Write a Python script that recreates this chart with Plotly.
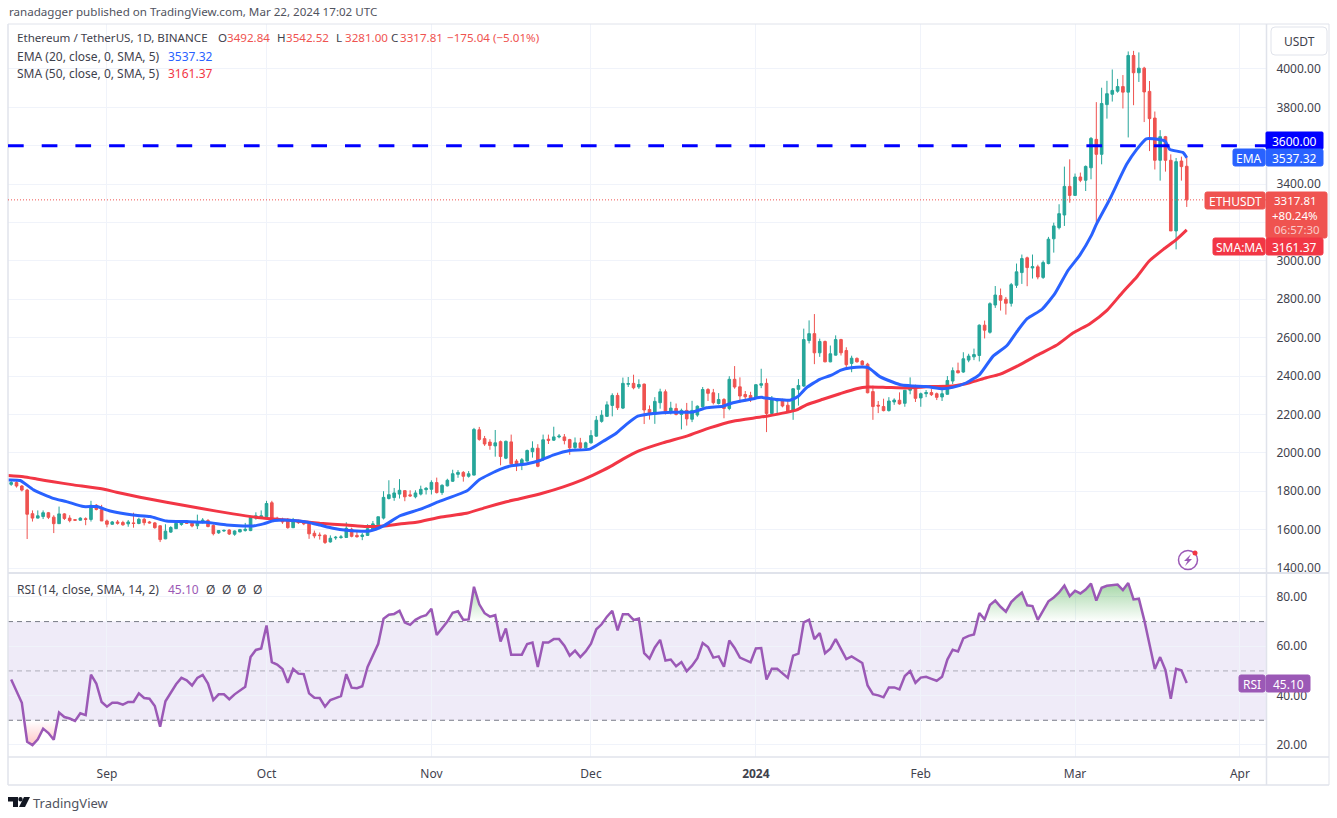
import numpy as np
import pandas as pd
import plotly.graph_objects as go

W, H = 1337, 818
# the drawn page comes out about 3px short of the window, so vertical positions are worked out against this
DRAWN_H = 815

first_day = "2023-08-14"

open_ = [
    1836, 1845, 1827, 1806, 1683, 1660, 1668, 1688, 1665, 1631, 1682, 1660, 1652, 1649, 1657, 1653, 1727, 1705,
    1645, 1628, 1640, 1637, 1630, 1635, 1632, 1654, 1640, 1635, 1620, 1552, 1587, 1605, 1627, 1638, 1633, 1620, 1637, 1647, 1622, 1583, 1593, 1598, 1576, 1588, 1595, 1595, 1660, 1665,
    1668, 1740, 1659, 1653, 1653, 1610, 1647, 1640, 1633, 1581, 1572, 1571, 1536, 1557, 1559, 1559, 1602, 1570, 1564, 1570, 1600, 1625, 1660, 1762, 1767, 1785, 1803, 1781, 1771, 1785, 1808,
    1810, 1845, 1793, 1828, 1852, 1888, 1898, 1878, 1884, 2120, 2074, 2056, 2036, 2058, 1972, 2057, 1957, 1940, 1957, 2006, 2024, 1965, 2071, 2066, 2083, 2083, 2069, 2028, 2052, 2026,
    2052, 2087, 2164, 2190, 2247, 2299, 2233, 2357, 2362, 2343, 2358, 2226, 2200, 2261, 2318, 2214, 2231, 2200, 2221, 2175, 2197, 2240, 2330, 2313, 2257, 2278, 2231, 2383, 2344, 2304, 2299,
    2283, 2352, 2362, 2205, 2270, 2270, 2248, 2218, 2331, 2348, 2585, 2621, 2521, 2580, 2474, 2509, 2590, 2533, 2466, 2492, 2478, 2462, 2319, 2248, 2241, 2220, 2265, 2274, 2258, 2326, 2350,
    2286, 2308, 2314, 2308, 2291, 2305, 2374, 2428, 2421, 2483, 2500, 2507, 2665, 2628, 2770, 2819, 2800, 2779, 2873, 2939, 3016, 2963, 2969, 2914, 2986, 3115, 3173, 3239, 3388,
    3341, 3437, 3420, 3485, 3633, 3555, 3814, 3868, 3884, 3908, 3879, 4070, 3980, 4004, 3883, 3744, 3524, 3647, 3524, 3156, 3520, 3492.84,
]
high = [
    1860, 1852, 1832, 1812, 1700, 1700, 1700, 1692, 1675, 1720, 1686, 1675, 1654, 1664, 1664, 1750, 1733, 1729,
    1652, 1645, 1650, 1646, 1650, 1688, 1662, 1662, 1645, 1640, 1622, 1628, 1618, 1635, 1650, 1650, 1636, 1678, 1660, 1655, 1628, 1598, 1600, 1602, 1596, 1604, 1635, 1672, 1690, 1700,
    1750, 1750, 1667, 1662, 1660, 1661, 1652, 1648, 1636, 1595, 1585, 1575, 1570, 1567, 1572, 1638, 1610, 1588, 1583, 1628, 1645, 1667, 1800, 1857, 1817, 1863, 1805, 1805, 1805, 1829, 1822,
    1857, 1871, 1836, 1865, 1912, 1910, 1905, 1905, 2130, 2135, 2088, 2071, 2119, 2064, 2064, 2095, 1967, 1973, 2017, 2060, 2045, 2095, 2095, 2136, 2098, 2098, 2073, 2080, 2078, 2058,
    2118, 2192, 2222, 2268, 2310, 2313, 2392, 2395, 2407, 2383, 2361, 2247, 2290, 2334, 2330, 2266, 2257, 2230, 2260, 2271, 2247, 2343, 2337, 2333, 2311, 2285, 2399, 2452, 2393, 2322, 2318,
    2357, 2438, 2387, 2296, 2281, 2282, 2280, 2336, 2384, 2647, 2690, 2723, 2595, 2585, 2559, 2612, 2594, 2550, 2506, 2497, 2483, 2469, 2350, 2270, 2282, 2290, 2284, 2315, 2327, 2393, 2355,
    2314, 2327, 2332, 2314, 2332, 2400, 2445, 2470, 2524, 2516, 2543, 2669, 2689, 2784, 2869, 2856, 2812, 2885, 2986, 3033, 3022, 3033, 2980, 3002, 3125, 3199, 3295, 3491, 3529,
    3455, 3460, 3497, 3645, 3827, 3902, 3938, 3997, 3948, 3968, 4091, 4094, 4086, 4011, 3937, 3778, 3681, 3651, 3555, 3536, 3543, 3542.52,
]
low = [
    1828, 1819, 1799, 1551, 1642, 1658, 1655, 1655, 1582, 1630, 1650, 1638, 1647, 1648, 1623, 1642, 1700, 1645,
    1612, 1625, 1626, 1620, 1615, 1610, 1628, 1622, 1632, 1605, 1535, 1550, 1583, 1603, 1620, 1630, 1612, 1603, 1632, 1612, 1570, 1578, 1588, 1572, 1568, 1586, 1590, 1592, 1652, 1660,
    1660, 1641, 1645, 1630, 1605, 1608, 1630, 1623, 1552, 1555, 1548, 1525, 1532, 1547, 1552, 1557, 1560, 1558, 1545, 1567, 1595, 1620, 1653, 1757, 1750, 1762, 1748, 1770, 1763, 1778, 1783,
    1783, 1788, 1781, 1825, 1848, 1870, 1850, 1871, 1882, 2063, 2036, 2016, 1980, 1935, 1967, 1935, 1905, 1910, 1955, 1975, 1925, 1958, 2046, 2062, 2076, 2044, 1990, 2020, 2018, 2022,
    2048, 2084, 2157, 2189, 2190, 2223, 2228, 2343, 2331, 2333, 2150, 2173, 2151, 2230, 2200, 2200, 2195, 2122, 2142, 2160, 2188, 2235, 2270, 2252, 2252, 2180, 2222, 2334, 2260, 2268, 2265,
    2281, 2337, 2108, 2200, 2205, 2237, 2213, 2172, 2246, 2343, 2570, 2462, 2500, 2472, 2472, 2507, 2507, 2435, 2420, 2470, 2455, 2310, 2172, 2207, 2216, 2215, 2250, 2251, 2240, 2305, 2265,
    2240, 2290, 2296, 2275, 2270, 2303, 2358, 2414, 2417, 2472, 2483, 2476, 2596, 2621, 2755, 2741, 2720, 2762, 2859, 2880, 2868, 2908, 2904, 2906, 2982, 3043, 3164, 3182, 3303,
    3340, 3410, 3364, 3425, 3202, 3503, 3741, 3830, 3876, 3794, 3643, 3811, 3932, 3723, 3572, 3476, 3418, 3465, 3156, 3060, 3418, 3281.00,
]
close = [
    1845, 1827, 1806, 1680, 1660, 1672, 1688, 1664, 1631, 1682, 1658, 1647, 1649, 1660, 1653, 1727, 1705, 1645,
    1628, 1640, 1633, 1625, 1640, 1632, 1654, 1636, 1635, 1610, 1548, 1592, 1611, 1633, 1638, 1633, 1619, 1640, 1650, 1616, 1579, 1595, 1596, 1577, 1593, 1600, 1602, 1664, 1672, 1672,
    1736, 1647, 1653, 1640, 1610, 1647, 1636, 1630, 1578, 1567, 1569, 1533, 1555, 1560, 1562, 1607, 1565, 1563, 1572, 1605, 1630, 1667, 1768, 1782, 1791, 1805, 1771, 1776, 1791, 1810, 1815,
    1846, 1793, 1831, 1857, 1891, 1898, 1878, 1891, 2122, 2070, 2046, 2038, 2052, 1981, 2060, 1943, 1940, 1964, 2012, 2024, 1930, 2068, 2065, 2083, 2087, 2064, 2026, 2052, 2026, 2052,
    2090, 2170, 2196, 2250, 2299, 2235, 2362, 2361, 2339, 2356, 2223, 2200, 2268, 2318, 2205, 2233, 2200, 2221, 2177, 2221, 2243, 2330, 2310, 2261, 2278, 2231, 2383, 2343, 2296, 2292, 2283,
    2355, 2360, 2205, 2282, 2278, 2244, 2218, 2334, 2351, 2590, 2621, 2521, 2580, 2474, 2516, 2590, 2521, 2459, 2493, 2474, 2459, 2313, 2241, 2244, 2220, 2270, 2275, 2255, 2326, 2348, 2284,
    2308, 2314, 2303, 2289, 2308, 2377, 2428, 2417, 2490, 2504, 2512, 2665, 2639, 2777, 2822, 2795, 2779, 2876, 2943, 3012, 2965, 2970, 2916, 2991, 3113, 3182, 3246, 3388, 3341,
    3437, 3420, 3492, 3638, 3555, 3820, 3871, 3888, 3908, 3879, 4070, 3980, 4004, 3880, 3741, 3524, 3647, 3524, 3156, 3517, 3491, 3317.81,
]

ema_days = [
    -0.6, 1.7, 4.2, 7.9, 10.4, 13.6, 16.1, 18.6, 22.9, 26.1, 29.2, 33, 36.7, 40.5, 43.6, 45.5, 47.4, 49.5, 53, 55.5, 58, 60.5, 63, 67.4, 70, 73, 76.8, 80.6, 85.7, 88,
    91.9, 93.8, 97, 99.4, 102, 105, 108.8, 111.3, 113.8, 115.6, 117.8, 120.7, 124.4, 128, 130.7, 133.8, 135.7, 139.5, 141, 143.9, 146.4, 147.9, 149.5, 152, 154.2, 156, 157.9, 160.1, 161.2, 163.3,
    165.7, 167.4, 169.5, 172, 175.1, 177, 179.6, 182.1, 184.6, 187.2, 189, 191, 193.8, 196.2, 198.7, 200.9, 203.1, 204, 206.5, 209.7, 211.6, 213.4, 214.7, 216.9, 217.8, 220.3, 221,
]
ema_values = [
    1859, 1856, 1807, 1763, 1746, 1720, 1720, 1697, 1676, 1668, 1645, 1642, 1638, 1624, 1619, 1619, 1630, 1647, 1648, 1640, 1624, 1607, 1597, 1593, 1619, 1671, 1705, 1748, 1802, 1860,
    1914, 1931, 1943, 1960, 1989, 2012, 2019, 2060, 2103, 2147, 2191, 2205, 2212, 2212, 2235, 2243, 2261, 2282, 2289, 2278, 2274, 2293, 2339, 2383, 2405, 2431, 2443, 2447, 2443, 2397,
    2369, 2353, 2348, 2345, 2334, 2341, 2365, 2409, 2504, 2559, 2629, 2699, 2748, 2829, 2951, 3030, 3134, 3190, 3320, 3503, 3581, 3636, 3636, 3624, 3581, 3564, 3537.32,
]
sma_days = [
    -0.6, 2.3, 4.8, 7.9, 11.7, 16.7, 19.8, 24.2, 29.2, 35.5, 41.7, 46.8, 53, 58, 63, 66.8, 70, 73, 76.2, 80.6, 85.6, 89.3, 93.1, 95.6, 100, 103.8, 107.5, 109.4, 112.6, 115, 118,
    122.5, 127, 131.3, 135.7, 142, 147.7, 149.5, 152.6, 155.8, 158.9, 161.1, 164.5, 168.3, 172.7, 177, 180.2, 183.3, 185.8, 189.5, 193, 196.5, 199.6, 202.8, 206, 209, 211.6, 213.9, 216.6, 219.1, 221,
]
sma_values = [
    1882, 1876, 1864, 1849, 1833, 1814, 1795, 1769, 1743, 1711, 1682, 1662, 1647, 1633, 1624, 1616, 1619, 1629, 1638, 1664, 1685, 1716, 1745, 1761, 1791, 1823, 1861, 1884, 1928, 1967, 2010,
    2052, 2087, 2130, 2165, 2191, 2224, 2250, 2279, 2308, 2334, 2343, 2341, 2338, 2345, 2348, 2365, 2391, 2409, 2457, 2510, 2560, 2624, 2673, 2742, 2838, 2916, 2998, 3060, 3112, 3161.37,
]
rsi_values = [
    46.5, 41.8, 37.1, 21.3, 19.9, 22.3, 26.6, 24.8, 22.1, 33.1, 31.3, 30.7, 29.7, 32.8, 32.1, 48.5, 44.9, 37.4,
    35.5, 37.1, 37.1, 36.3, 37.4, 37.4, 40.9, 39, 38.7, 35.8, 27.4, 37.7, 40.9, 44.6, 47.2, 46.2, 44.1, 47.2, 48.4, 44.9, 38.2, 40.5, 40.5, 38.5, 40.5, 42.1, 43.6, 55.6, 58.5, 59.1,
    68.4, 53.6, 52.6, 50.8, 45.2, 50.8, 48.9, 48.7, 40.9, 39.1, 39, 35.5, 38.2, 39, 39.8, 48.7, 43.2, 43, 43.8, 51.6, 56.2, 61, 71.2, 72.8, 73.1, 74.4, 69.6, 68.7, 70.7, 71.9, 72.6,
    75.2, 64.6, 67.3, 70, 73.6, 74.2, 70.7, 70.9, 84.1, 77, 73.4, 72, 72.6, 61.9, 67.2, 56.6, 56.6, 56.6, 60.9, 61.5, 51.6, 61.5, 61.5, 62.9, 62.9, 60.2, 56.2, 58.2, 55.6, 57.9,
    61, 66.9, 68.9, 72, 74.4, 66.4, 73, 73, 70.7, 71.2, 57.2, 55, 59.5, 62.6, 54.2, 54.6, 51.9, 53.6, 49.9, 52.1, 55.2, 61.3, 59.7, 55.4, 55.9, 51.7, 62.3, 59.3, 55.4, 54.6, 53.5,
    59.1, 59.3, 46.5, 50.9, 50.9, 48.9, 47.2, 56.2, 57, 69.7, 70.7, 62.9, 65.3, 57.2, 59, 62.9, 58.6, 54.8, 55.9, 54.6, 53.2, 44.1, 40.6, 40.1, 39.3, 43.3, 43.3, 42.5, 47.9, 49.9, 45.2,
    47.3, 47.6, 46.8, 46, 47.6, 54.6, 58.6, 57.9, 63.2, 64.2, 64.8, 73.5, 70.9, 76.7, 78.5, 76, 74, 77.9, 80, 81.8, 76.6, 76.3, 70.7, 74.3, 78.2, 79.8, 81.8, 84.6, 80.3,
    82.5, 81.4, 83, 85.4, 78.5, 83.7, 84.5, 84.8, 85, 82.8, 85.6, 79, 79.3, 70.7, 61.3, 50.8, 55.6, 50.3, 38.7, 50.9, 50.3, 45.1,
]

price_ticks = [1400, 1600, 1800, 2000, 2200, 2400, 2600, 2800, 3000, 3200, 3400, 3600, 3800, 4000]
hidden_price_ticks = [3200, 3600]
rsi_ticks = [20, 40, 60, 80]
month_ticks = ["2023-09-01", "2023-10-01", "2023-11-01", "2023-12-01", "2024-01-01", "2024-02-01", "2024-03-01", "2024-04-01"]
month_labels = ["Sep", "Oct", "Nov", "Dec", "<b>2024</b>", "Feb", "Mar", "Apr"]

resistance = 3600
last_close = 3317.81

GREEN = "#26A69A"
RED = "#EF5350"
SMA_RED = "#F23645"
BLUE = "#2962FF"
PURPLE = "#9B59B6"
TEXT = "#3F424D"
GRID = "#F0F3FA"
FRAME = "#E0E3EB"
FONT = "Noto Sans"


def px(x):
    return x / W


def py(y):
    return 1 - y / DRAWN_H


def day_axis(days):
    return pd.Timestamp(first_day) + pd.to_timedelta(days, unit="D")


dates = pd.date_range(first_day, periods=len(close), freq="D")
rsi = np.array(rsi_values)

fig = go.Figure()

fig.add_trace(go.Candlestick(
    x=dates, open=open_, high=high, low=low, close=close, xaxis="x", yaxis="y",
    increasing=dict(line=dict(color=GREEN, width=1), fillcolor=GREEN),
    decreasing=dict(line=dict(color=RED, width=1), fillcolor=RED),
    whiskerwidth=0,
))
fig.add_trace(go.Scatter(x=day_axis(sma_days), y=sma_values, mode="lines", xaxis="x", yaxis="y",
                         line=dict(color=SMA_RED, width=3, shape="spline", smoothing=0.5)))
fig.add_trace(go.Scatter(x=day_axis(ema_days), y=ema_values, mode="lines", xaxis="x", yaxis="y",
                         line=dict(color=BLUE, width=3, shape="spline", smoothing=0.5)))

# overbought / oversold shading of the RSI pane
fig.add_trace(go.Scatter(x=dates, y=[70] * len(rsi), mode="lines", line=dict(width=0), xaxis="x2", yaxis="y2"))
fig.add_trace(go.Scatter(
    x=dates, y=np.maximum(rsi, 70), mode="lines", line=dict(width=0), xaxis="x2", yaxis="y2", fill="tonexty",
    fillgradient=dict(type="vertical", start=70, stop=90,
                      colorscale=[[0, "rgba(76,175,80,0)"], [1, "rgba(76,175,80,0.65)"]]),
))
fig.add_trace(go.Scatter(x=dates, y=[30] * len(rsi), mode="lines", line=dict(width=0), xaxis="x2", yaxis="y2"))
fig.add_trace(go.Scatter(
    x=dates, y=np.minimum(rsi, 30), mode="lines", line=dict(width=0), xaxis="x2", yaxis="y2", fill="tonexty",
    fillgradient=dict(type="vertical", start=30, stop=15,
                      colorscale=[[0, "rgba(255,82,82,0)"], [1, "rgba(255,82,82,0.5)"]]),
))
fig.add_trace(go.Scatter(x=dates, y=rsi, mode="lines", xaxis="x2", yaxis="y2",
                         line=dict(color=PURPLE, width=2.5)))

shapes = []


def line(x0, y0, x1, y1, color=FRAME, width=1):
    shapes.append(dict(type="line", xref="paper", yref="paper", x0=px(x0), y0=py(y0), x1=px(x1), y1=py(y1),
                       line=dict(color=color, width=width), layer="above"))


def box(x0, y0, x1, y1, color, border=None, r=2):
    path = (f"M {px(x0 + r)} {py(y0)} L {px(x1 - r)} {py(y0)} Q {px(x1)} {py(y0)} {px(x1)} {py(y0 + r)} "
            f"L {px(x1)} {py(y1 - r)} Q {px(x1)} {py(y1)} {px(x1 - r)} {py(y1)} L {px(x0 + r)} {py(y1)} "
            f"Q {px(x0)} {py(y1)} {px(x0)} {py(y1 - r)} L {px(x0)} {py(y0 + r)} Q {px(x0)} {py(y0)} {px(x0 + r)} {py(y0)} Z")
    shapes.append(dict(type="path", xref="paper", yref="paper", path=path, fillcolor=color,
                       line=dict(color=border or color, width=1), layer="above"))


def poly(points, color):
    path = "M " + " L ".join(f"{px(x)} {py(y)}" for x, y in points) + " Z"
    shapes.append(dict(type="path", xref="paper", yref="paper", path=path, fillcolor=color,
                       line=dict(width=0), layer="above"))


def circle(cx, cy, r, fill="rgba(0,0,0,0)", color=None, width=0):
    shapes.append(dict(type="circle", xref="paper", yref="paper", x0=px(cx - r), x1=px(cx + r), y0=py(cy - r), y1=py(cy + r),
                       fillcolor=fill, line=dict(color=color or fill, width=width), layer="above"))


# frame of the widget
line(8, 24, 1329, 24)
line(8, 24, 8, 785, width=1.5)
line(1329, 24, 1329, 785)
line(8, 785, 1329, 785, width=1.5)
line(1266.5, 24, 1266.5, 785, width=1.5)
line(8, 573, 1329, 573, width=2)
line(8, 757, 1329, 757, width=1.5)

# RSI band and levels
shapes.append(dict(type="rect", xref="x2 domain", yref="y2", x0=0, x1=1, y0=30, y1=70,
                   fillcolor="rgba(126,87,194,0.12)", line=dict(width=0), layer="below"))
for level, color in [(70, "#787B86"), (50, "rgba(120,123,134,0.55)"), (30, "#787B86")]:
    shapes.append(dict(type="line", xref="x2 domain", yref="y2", x0=0, x1=1, y0=level, y1=level,
                       line=dict(color=color, width=1, dash="5px,4px"), layer="below"))

# horizontal level and last price line
shapes.append(dict(type="line", xref="x domain", yref="y", x0=0, x1=1, y0=resistance, y1=resistance,
                   line=dict(color="#0000FF", width=3, dash="15.7px,18px"), layer="above"))
shapes.append(dict(type="line", xref="x domain", yref="y", x0=0, x1=1, y0=last_close, y1=last_close,
                   line=dict(color=RED, width=1, dash="1px,2px"), layer="above"))

# price scale labels
box(1271, 27, 1327, 55, "#FFFFFF", border=FRAME, r=4)
box(1266, 132, 1323, 149, "#0000FF", r=1)
box(1233, 149, 1265, 166, BLUE)
box(1266, 149, 1323, 166, BLUE)
box(1205, 192, 1265, 209, RED)
box(1266, 192, 1327, 238, RED)
box(1213, 238, 1265, 255, SMA_RED)
box(1266, 238, 1323, 255, SMA_RED)
box(1239, 675, 1265, 692, PURPLE)
box(1266, 675, 1310, 692, PURPLE)

# flash icon
circle(1188, 560, 9.5, color=PURPLE, width=1.5)
poly([(1191, 554), (1184, 561), (1187.5, 561), (1185, 566), (1192, 559), (1188.5, 559)], PURPLE)
circle(1195, 553, 2.5, fill=SMA_RED)

# TradingView logo
poly([(8, 797), (18, 797), (18, 807), (13, 807), (13, 801.5), (8, 801.5)], "#131722")
circle(20.5, 799.2, 2.2, fill="#131722")
poly([(24, 797), (30, 797), (25, 807), (19, 807)], "#131722")

annotations = []


def text(x, y, s, color=TEXT, size=12, anchor="left"):
    annotations.append(dict(xref="paper", yref="paper", x=px(x), y=py(y), text=s, showarrow=False,
                            xanchor=anchor, yanchor="middle", borderpad=0,
                            font=dict(family=FONT, size=size, color=color)))


text(8, 11, "ranadagger published on TradingView.com, Mar 22, 2024 17:02 UTC", "#50535E", 11.6)
text(16, 38, "Ethereum / TetherUS, 1D, BINANCE", TEXT, 11.6)
for x, letter, value in [(217, "O", "3492.84"), (276, "H", "3542.52"), (335, "L", "3281.00"), (390, "C", "3317.81")]:
    text(x, 38, letter, TEXT, 11.6)
    text(x + 9, 38, value, RED, 11.6)
text(446, 38, "−175.04 (−5.01%)", RED, 11.6)
text(16, 56, "EMA (20, close, 0, SMA, 5)")
text(167, 56, "3537.32", BLUE)
text(16, 73, "SMA (50, close, 0, SMA, 5)")
text(167, 73, "3161.37", SMA_RED)
text(16, 589, "RSI (14, close, SMA, 14, 2)")
text(167, 589, "45.10", PURPLE)
for x in [205, 221, 236, 252]:
    text(x, 589, "Ø")

text(1299, 41, "USDT", TEXT, 12, "center")
text(1294.5, 141, "3600.00", "#FFFFFF", 12, "center")
text(1249, 158, "EMA", "#FFFFFF", 12, "center")
text(1294.5, 158, "3537.32", "#FFFFFF", 12, "center")
text(1235, 201, "ETHUSDT", "#FFFFFF", 12, "center")
text(1295, 200.5, "3317.81", "#FFFFFF", 11.5, "center")
text(1295, 215, "+80.24%", "#FFFFFF", 11.5, "center")
text(1297, 230, "06:57:30", "rgba(255,255,255,0.7)", 11.5, "center")
text(1239, 247, "SMA:MA", "#FFFFFF", 12, "center")
text(1294.5, 247, "3161.37", "#FFFFFF", 12, "center")
text(1252, 684, "RSI", "#FFFFFF", 12, "center")
text(1288, 684, "45.10", "#FFFFFF", 12, "center")
text(32, 803, "TradingView", "#50535E", 13)

x_range = [day_axis(-0.6), day_axis(235.9)]
axis_font = dict(family=FONT, size=12, color=TEXT)
hidden = dict(ticks="outside", ticklen=7, tickcolor="rgba(0,0,0,0)")

fig.update_layout(
    width=W, height=H,
    margin=dict(l=0, r=0, t=0, b=0),
    paper_bgcolor="white", plot_bgcolor="white",
    showlegend=False,
    hovermode=False,
    shapes=shapes,
    annotations=annotations,
    xaxis=dict(domain=[px(8), px(1266)], range=x_range, type="date", anchor="y", rangeslider=dict(visible=False),
               tickmode="array", tickvals=month_ticks, showticklabels=False, gridcolor=GRID, showgrid=True,
               zeroline=False, showline=False),
    xaxis2=dict(domain=[px(8), px(1266)], range=x_range, type="date", anchor="y2", matches="x",
                tickmode="array", tickvals=month_ticks, ticktext=month_labels, gridcolor=GRID, showgrid=True,
                tickfont=axis_font, zeroline=False, showline=False, ticks="outside", ticklen=6,
                tickcolor="rgba(0,0,0,0)"),
    yaxis=dict(domain=[py(573), py(24)], range=[1374, 4234], side="right", anchor="x", tickmode="array",
               tickvals=price_ticks,
               ticktext=["" if t in hidden_price_ticks else f"{t:.2f}" for t in price_ticks],
               gridcolor=GRID, tickfont=axis_font, zeroline=False, showline=False, **hidden),
    yaxis2=dict(domain=[py(757), py(573)], range=[15.1, 89.7], side="right", anchor="x2", tickmode="array",
                tickvals=rsi_ticks, ticktext=[f"{t:.2f}" for t in rsi_ticks],
                gridcolor=GRID, tickfont=axis_font, zeroline=False, showline=False, **hidden),
)

fig.write_html("out.html", config=dict(displayModeBar=False),
               post_script="document.body.style.margin='0';document.body.style.overflow='hidden';")
